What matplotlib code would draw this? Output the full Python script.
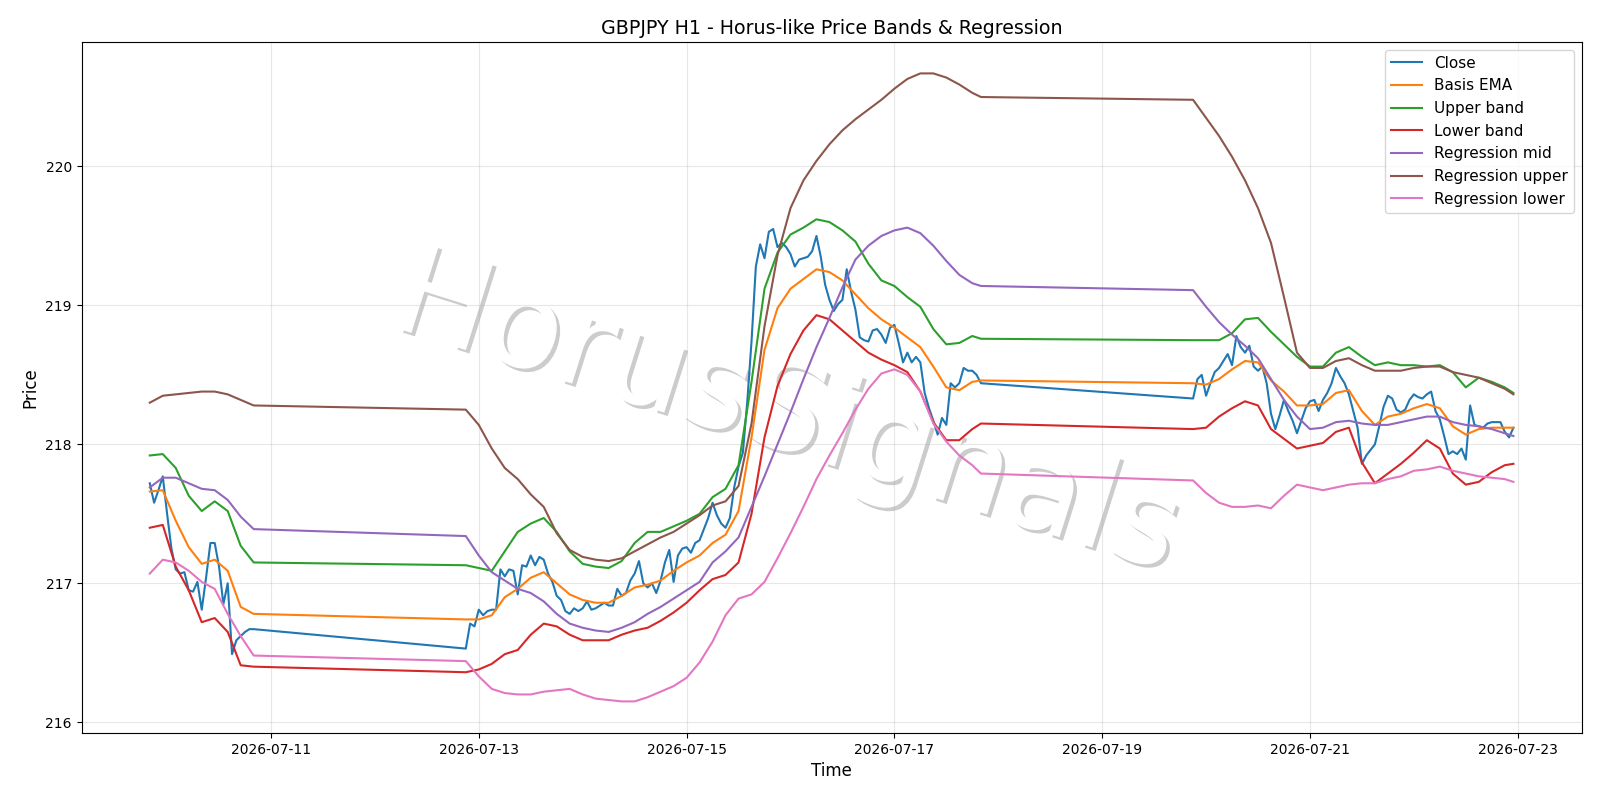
import matplotlib
matplotlib.use("Agg")
import matplotlib.pyplot as plt
import matplotlib.patheffects as pe
import pandas as pd

# trading blocks: first hourly bar of each block and how many bars it has
block_start = ["2026-07-09 20:00", "2026-07-12 21:00", "2026-07-19 21:00"]
block_bars = [25, 120, 75]

# hourly closes, one list per block
close_b1 = [217.72, 217.58, 217.67, 217.77, 217.50, 217.25, 217.10, 217.07, 217.08, 216.95,
            216.94, 217.01, 216.81, 217.04, 217.29, 217.29, 217.12, 216.85, 217.00, 216.49,
            216.59, 216.62, 216.65, 216.67, 216.67]
close_b2 = [216.53, 216.71, 216.69, 216.81, 216.77, 216.80, 216.81, 216.81, 217.10, 217.05,
            217.10, 217.09, 216.92, 217.13, 217.12, 217.20, 217.13, 217.19, 217.17, 217.07,
            217.01, 216.91, 216.88, 216.80, 216.78, 216.82, 216.80, 216.82, 216.87, 216.81,
            216.82, 216.84, 216.86, 216.84, 216.84, 216.96, 216.91, 216.93, 217.02, 217.07,
            217.16, 217.00, 216.97, 217.00, 216.93, 217.02, 217.15, 217.24, 217.01, 217.20,
            217.25, 217.26, 217.22, 217.29, 217.31, 217.39, 217.47, 217.58, 217.49, 217.43,
            217.40, 217.47, 217.69, 217.84, 217.94, 218.30, 218.74, 219.28, 219.44, 219.34,
            219.53, 219.55, 219.42, 219.45, 219.42, 219.37, 219.28, 219.33, 219.34, 219.35,
            219.39, 219.50, 219.35, 219.15, 219.04, 218.96, 219.01, 219.04, 219.26, 219.10,
            218.97, 218.77, 218.75, 218.74, 218.82, 218.83, 218.79, 218.73, 218.84, 218.86,
            218.73, 218.59, 218.66, 218.59, 218.63, 218.59, 218.37, 218.26, 218.17, 218.07,
            218.19, 218.14, 218.44, 218.41, 218.44, 218.55, 218.53, 218.53, 218.50, 218.44]
close_b3 = [218.33, 218.47, 218.50, 218.35, 218.44, 218.52, 218.55, 218.60, 218.65, 218.57,
            218.78, 218.70, 218.66, 218.71, 218.56, 218.53, 218.56, 218.44, 218.22, 218.11,
            218.21, 218.32, 218.24, 218.17, 218.08, 218.17, 218.26, 218.31, 218.32, 218.24,
            218.32, 218.37, 218.44, 218.55, 218.49, 218.44, 218.36, 218.24, 218.12, 217.86,
            217.92, 217.96, 218.00, 218.13, 218.27, 218.35, 218.33, 218.25, 218.23, 218.25,
            218.32, 218.36, 218.34, 218.33, 218.36, 218.38, 218.24, 218.18, 218.06, 217.93,
            217.95, 217.93, 217.97, 217.89, 218.28, 218.14, 218.13, 218.12, 218.15, 218.16,
            218.16, 218.16, 218.09, 218.05, 218.12]

# indicator lines, read every 3rd bar (plus the last bar of a block)
ema_b1 = [217.66, 217.67, 217.45, 217.26, 217.14, 217.17, 217.09, 216.83, 216.78]
ema_b2 = [216.74, 216.74, 216.77, 216.90, 216.96, 217.04, 217.08, 217.00, 216.92, 216.88,
          216.86, 216.86, 216.91, 216.97, 216.99, 217.02, 217.09, 217.15, 217.20, 217.29,
          217.35, 217.52, 218.05, 218.68, 218.98, 219.12, 219.19, 219.26, 219.24, 219.18,
          219.08, 218.98, 218.90, 218.84, 218.77, 218.70, 218.56, 218.41, 218.39, 218.45, 218.46]
ema_b3 = [218.44, 218.43, 218.47, 218.54, 218.60, 218.59, 218.46, 218.38, 218.28, 218.28,
          218.29, 218.37, 218.39, 218.24, 218.14, 218.20, 218.22, 218.26, 218.29, 218.26,
          218.13, 218.07, 218.11, 218.12, 218.12, 218.12]

upper_b1 = [217.92, 217.93, 217.83, 217.63, 217.52, 217.59, 217.52, 217.27, 217.15]
upper_b2 = [217.13, 217.11, 217.09, 217.23, 217.37, 217.43, 217.47, 217.37, 217.23, 217.14,
            217.12, 217.11, 217.16, 217.29, 217.37, 217.37, 217.41, 217.45, 217.50, 217.62,
            217.68, 217.85, 218.45, 219.12, 219.38, 219.51, 219.56, 219.62, 219.60, 219.54,
            219.46, 219.30, 219.18, 219.14, 219.06, 218.99, 218.83, 218.72, 218.73, 218.78, 218.76]
upper_b3 = [218.75, 218.75, 218.75, 218.80, 218.90, 218.91, 218.81, 218.72, 218.63, 218.56,
            218.56, 218.66, 218.70, 218.63, 218.57, 218.59, 218.57, 218.57, 218.56, 218.57,
            218.52, 218.41, 218.48, 218.45, 218.41, 218.37]

lower_b1 = [217.40, 217.42, 217.12, 216.95, 216.72, 216.75, 216.65, 216.41, 216.40]
lower_b2 = [216.36, 216.38, 216.42, 216.49, 216.52, 216.63, 216.71, 216.69, 216.63, 216.59,
            216.59, 216.59, 216.63, 216.66, 216.68, 216.73, 216.79, 216.86, 216.95, 217.03,
            217.06, 217.15, 217.50, 218.05, 218.42, 218.65, 218.82, 218.93, 218.90, 218.82,
            218.74, 218.66, 218.61, 218.57, 218.52, 218.38, 218.16, 218.03, 218.03, 218.11, 218.15]
lower_b3 = [218.11, 218.12, 218.20, 218.26, 218.31, 218.28, 218.11, 218.04, 217.97, 217.99,
            218.01, 218.09, 218.12, 217.87, 217.72, 217.79, 217.86, 217.94, 218.03, 217.97,
            217.79, 217.71, 217.73, 217.80, 217.85, 217.86]

reg_mid_b1 = [217.69, 217.76, 217.76, 217.72, 217.68, 217.67, 217.60, 217.48, 217.39]
reg_mid_b2 = [217.34, 217.20, 217.08, 217.02, 216.96, 216.93, 216.87, 216.78, 216.71, 216.68,
              216.66, 216.65, 216.68, 216.72, 216.78, 216.83, 216.89, 216.95, 217.01, 217.15,
              217.23, 217.33, 217.55, 217.77, 218.00, 218.23, 218.47, 218.70, 218.91, 219.13,
              219.33, 219.43, 219.50, 219.54, 219.56, 219.52, 219.43, 219.32, 219.22, 219.16, 219.14]
reg_mid_b3 = [219.11, 218.99, 218.88, 218.79, 218.71, 218.62, 218.47, 218.32, 218.20, 218.11,
              218.12, 218.16, 218.17, 218.15, 218.14, 218.14, 218.16, 218.18, 218.20, 218.20,
              218.16, 218.14, 218.13, 218.11, 218.08, 218.06]

reg_up_b1 = [218.30, 218.35, 218.36, 218.37, 218.38, 218.38, 218.36, 218.32, 218.28]
reg_up_b2 = [218.25, 218.14, 217.97, 217.83, 217.75, 217.64, 217.55, 217.36, 217.24, 217.19,
             217.17, 217.16, 217.18, 217.23, 217.28, 217.33, 217.37, 217.43, 217.49, 217.56,
             217.59, 217.70, 218.15, 218.85, 219.36, 219.70, 219.90, 220.04, 220.16, 220.26,
             220.34, 220.41, 220.48, 220.56, 220.63, 220.67, 220.67, 220.64, 220.59, 220.53, 220.50]
reg_up_b3 = [220.48, 220.35, 220.22, 220.07, 219.90, 219.70, 219.45, 219.06, 218.66, 218.55,
             218.55, 218.60, 218.62, 218.57, 218.53, 218.53, 218.53, 218.55, 218.56, 218.56,
             218.52, 218.50, 218.48, 218.44, 218.40, 218.36]

reg_lo_b1 = [217.07, 217.17, 217.15, 217.09, 217.01, 216.96, 216.78, 216.62, 216.48]
reg_lo_b2 = [216.44, 216.33, 216.24, 216.21, 216.20, 216.20, 216.22, 216.23, 216.24, 216.20,
             216.17, 216.16, 216.15, 216.15, 216.18, 216.22, 216.26, 216.32, 216.43, 216.58,
             216.77, 216.89, 216.92, 217.01, 217.18, 217.36, 217.55, 217.75, 217.92, 218.08,
             218.25, 218.40, 218.51, 218.54, 218.50, 218.38, 218.15, 218.02, 217.92, 217.85, 217.79]
reg_lo_b3 = [217.74, 217.65, 217.58, 217.55, 217.55, 217.56, 217.54, 217.63, 217.71, 217.69,
             217.67, 217.69, 217.71, 217.72, 217.72, 217.75, 217.77, 217.81, 217.82, 217.84,
             217.81, 217.79, 217.77, 217.76, 217.75, 217.73]


def hourly_times():
    out = []
    for st, n in zip(block_start, block_bars):
        out += list(pd.date_range(st, periods=n, freq="h"))
    return out


def sampled_times():
    # every 3rd bar of each block, plus the block's last bar
    out = []
    for st, n in zip(block_start, block_bars):
        offs = list(range(0, n, 3))
        if offs[-1] != n - 1:
            offs.append(n - 1)
        out += [pd.Timestamp(st) + pd.Timedelta(hours=h) for h in offs]
    return out


t_close = hourly_times()
t_ind = sampled_times()

series = [
    ("Close", close_b1 + close_b2 + close_b3, t_close),
    ("Basis EMA", ema_b1 + ema_b2 + ema_b3, t_ind),
    ("Upper band", upper_b1 + upper_b2 + upper_b3, t_ind),
    ("Lower band", lower_b1 + lower_b2 + lower_b3, t_ind),
    ("Regression mid", reg_mid_b1 + reg_mid_b2 + reg_mid_b3, t_ind),
    ("Regression upper", reg_up_b1 + reg_up_b2 + reg_up_b3, t_ind),
    ("Regression lower", reg_lo_b1 + reg_lo_b2 + reg_lo_b3, t_ind),
]

fig, ax = plt.subplots(figsize=(16, 8), dpi=100)
fig.subplots_adjust(left=0.051, right=0.9885, top=0.9475, bottom=0.084)

for name, vals, t in series:
    ax.plot(t, vals, label=name, linewidth=1.5)

ax.set_title("GBPJPY H1 - Horus-like Price Bands & Regression", fontsize=13.7)
ax.set_xlabel("Time", fontsize=12)
ax.set_ylabel("Price", fontsize=12)
ax.grid(True, alpha=0.3)
ax.legend(loc="upper right", fontsize=11)

# watermark, sits under the lines
ax.text(0.492, 0.481, "HorusSignals", transform=fig.transFigure, fontsize=90,
        color="white", rotation=-17.5, ha="center", va="center", zorder=1,
        path_effects=[pe.withSimplePatchShadow(offset=(2.5, -2.5), shadow_rgbFace="black", alpha=0.2)])

fig.savefig("out.png", dpi=100)
